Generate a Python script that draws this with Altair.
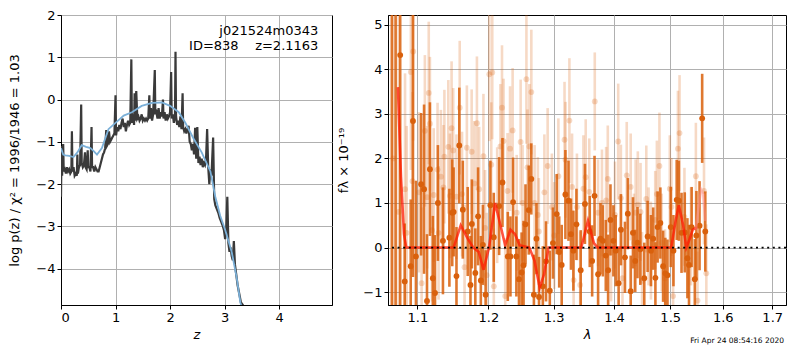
import altair as alt
import pandas as pd

# ---------------- left panel: log p(z) ----------------
pz_z = [0.00, 0.01, 0.02, 0.03, 0.04, 0.05, 0.07, 0.09, 0.11, 0.13, 0.15, 0.17, 0.19, 0.20, 0.21,
        0.23, 0.25, 0.27, 0.29, 0.30, 0.31, 0.33, 0.35, 0.37, 0.38, 0.40, 0.42, 0.44, 0.45, 0.47,
        0.49, 0.50, 0.52, 0.54, 0.56, 0.57, 0.59, 0.61, 0.63, 0.65, 0.67, 0.69, 0.71, 0.73, 0.75,
        0.77, 0.79, 0.81, 0.83, 0.84, 0.86, 0.88, 0.90, 0.92, 0.94, 0.96, 0.98, 1.00, 1.01, 1.03,
        1.05, 1.07, 1.09, 1.11, 1.13, 1.15, 1.17, 1.19, 1.21, 1.23, 1.25, 1.27, 1.29, 1.30, 1.32,
        1.34, 1.35, 1.36, 1.38, 1.40, 1.42, 1.44, 1.46, 1.48, 1.50, 1.52, 1.54, 1.56, 1.58, 1.60,
        1.62, 1.63, 1.65, 1.67, 1.69, 1.72, 1.73, 1.75, 1.77, 1.79, 1.81, 1.83, 1.85, 1.87, 1.88,
        1.90, 1.92, 1.94, 1.96, 1.98, 2.00, 2.02, 2.03, 2.05, 2.07, 2.09, 2.10, 2.11, 2.13, 2.15,
        2.17, 2.19, 2.21, 2.23, 2.24, 2.26, 2.28, 2.30, 2.32, 2.34, 2.36, 2.38, 2.40, 2.42, 2.44,
        2.46, 2.48, 2.50, 2.52, 2.54, 2.56, 2.58, 2.60, 2.62, 2.64, 2.66, 2.68, 2.70, 2.72, 2.74,
        2.76, 2.79, 2.81, 2.83, 2.86, 2.89, 2.91, 2.94, 2.97, 2.99, 3.01, 3.03, 3.05, 3.07, 3.09,
        3.11, 3.13, 3.15, 3.17, 3.19, 3.21, 3.24, 3.27, 3.30, 3.33, 3.35]
pz_logp = [-2.30, -1.10, -1.80, -1.50, -1.05, -1.70, -1.65, -1.75, -1.60, -1.70, -1.65, -1.75, -1.70, -0.75, -1.70,
           -1.60, -1.80, -1.75, -1.80, -1.30, -1.75, -1.60, -1.55, -0.12, -1.50, -1.60, -1.55, -1.25, -1.60, -1.65,
           -1.20, -1.60, -1.60, -1.70, -0.65, -1.60, -1.60, -1.70, -1.60, -1.65, -1.70, -1.70, -1.60, -1.50, -1.40,
           -1.30, -1.25, -1.15, -0.72, -1.10, -1.05, -0.75, -1.00, -0.95, -0.90, -0.85, -0.80, 0.10, -0.85, -0.65,
           -0.75, -0.60, -0.70, -0.55, -0.45, -0.65, -0.55, -0.75, -0.60, -0.50, -0.60, -0.55, 0.95, -0.55, -0.35,
           -0.60, 0.15, -0.50, 0.20, -0.45, -0.40, -0.50, -0.45, -0.35, -0.50, -0.45, -0.50, -0.45, -0.50, -0.45,
           0.10, -0.45, -0.20, -0.50, -0.35, 0.70, -0.35, -0.30, -0.45, -0.20, -0.45, -0.30, -0.40, 0.00, -0.45,
           -0.30, -0.50, -0.35, -0.45, -0.40, -0.30, 0.65, -0.45, -0.35, -0.55, -0.40, 1.13, -0.40, -0.60, -0.50,
           -0.65, -0.40, -0.70, 0.15, -0.65, -0.75, -0.70, -0.80, -0.70, -0.62, -1.00, -1.05, -1.20, -1.05, -1.30,
           -0.67, -1.40, -0.65, -1.50, -1.35, -1.55, -1.40, -1.60, -1.50, -1.55, -1.40, -0.70, -1.60, -2.00, -1.65,
           -1.80, -0.90, -2.35, -2.50, -2.60, -2.70, -2.80, -2.90, -3.00, -3.10, -3.30, -3.10, -2.30, -3.40, -3.60,
           -3.50, -3.70, -3.80, -3.35, -3.90, -4.10, -4.40, -4.60, -4.80, -4.85, -4.90]

sm_z = [0.00, 0.04, 0.08, 0.15, 0.23, 0.30, 0.38, 0.46, 0.54, 0.60, 0.66, 0.75, 0.87, 1.00, 1.15,
        1.30, 1.48, 1.67, 1.85, 2.00, 2.16, 2.28, 2.43, 2.58, 2.74, 2.83, 2.92, 3.01, 3.13, 3.22,
        3.29, 3.31]
sm_logp = [-1.15, -1.30, -1.32, -1.33, -1.36, -1.25, -1.08, -1.12, -1.15, -1.22, -1.30, -1.15, -0.70, -0.55, -0.38,
           -0.30, -0.15, -0.08, -0.07, -0.15, -0.30, -0.55, -0.92, -1.25, -1.70, -2.30, -2.75, -3.08, -3.60, -4.20,
           -4.80, -4.90]

ann_x = [4.72, 4.72]
ann_y = [1.62, 1.27]
ann_text = ["j021524m0343", "ID=838\u00a0\u00a0\u00a0\u00a0z=2.1163"]

# ---------------- right panel: spectrum ----------------
d_wave = [1.066, 1.071, 1.077, 1.083, 1.091, 1.094, 1.098, 1.105, 1.109, 1.113, 1.117, 1.121, 1.124, 1.128, 1.135,
          1.144, 1.148, 1.150, 1.154, 1.158, 1.163, 1.170, 1.174, 1.176, 1.181, 1.185, 1.189, 1.192, 1.196, 1.203,
          1.208, 1.216, 1.221, 1.229, 1.233, 1.237, 1.242, 1.246, 1.250, 1.253, 1.256, 1.261, 1.265, 1.269, 1.273,
          1.277, 1.283, 1.288, 1.294, 1.299, 1.305, 1.309, 1.313, 1.319, 1.324, 1.328, 1.332, 1.337, 1.344, 1.351,
          1.359, 1.363, 1.367, 1.373, 1.377, 1.381, 1.386, 1.390, 1.394, 1.399, 1.403, 1.408, 1.412, 1.419, 1.424,
          1.429, 1.433, 1.437, 1.441, 1.446, 1.453, 1.459, 1.465, 1.469, 1.473, 1.477, 1.482, 1.487, 1.491, 1.495,
          1.501, 1.506, 1.512, 1.516, 1.521, 1.527, 1.532, 1.535, 1.540, 1.546, 1.549, 1.555, 1.560, 1.566]
d_flux = [6.00, 5.80, 4.32, -0.76, -0.42, 2.84, -0.20, 1.42, 1.31, -1.20, 1.76, -0.69, -1.02, 1.00, 0.15,
          0.22, 0.78, 0.80, -0.64, 2.29, 0.85, 0.36, -0.84, 0.53, -0.57, 0.70, -0.74, 0.06, -1.06, 0.95,
          0.23, 0.93, 1.46, -0.20, -0.20, 1.02, -0.20, -0.71, -0.56, -0.40, 0.52, 0.84, 1.54, -1.06, 0.20,
          -1.11, -0.87, -0.31, -0.97, 0.10, 0.75, -0.10, -0.39, 1.19, 1.05, 0.30, -0.07, 0.52, -0.51, 0.98,
          0.36, -0.30, 1.16, -0.60, 0.20, 0.15, -0.18, -0.51, 0.62, 0.15, -0.07, -0.80, 0.40, -0.22, 0.76,
          -0.98, 0.33, -0.30, 0.11, -0.04, -0.69, 0.25, -0.07, 0.20, -0.68, 0.46, 0.55, -0.42, -0.58, -0.62,
          0.46, -0.07, 1.07, 1.05, 0.33, 0.34, -0.24, -0.39, 0.46, -0.71, 0.27, 0.49, 2.90, 0.36]
d_err = [8.0, 7.5, 6.0, 1.3, 1.5, 3.5, 1.7, 1.6, 1.9, 1.5, 1.5, 1.4, 1.3, 1.3, 1.2,
         1.1, 1.2, 1.0, 1.1, 1.3, 1.1, 1.0, 1.1, 1.0, 1.0, 1.1, 1.0, 0.9, 1.0, 1.0,
         1.0, 1.1, 1.0, 1.0, 0.9, 1.0, 0.9, 0.9, 0.9, 1.0, 0.9, 1.0, 0.8, 0.9, 0.8,
         0.9, 0.9, 0.9, 0.9, 0.8, 0.9, 0.8, 0.9, 1.0, 0.9, 0.8, 0.9, 0.8, 0.9, 0.9,
         0.8, 0.8, 0.9, 0.8, 0.8, 0.8, 0.8, 0.8, 0.8, 0.8, 0.8, 0.8, 0.8, 0.8, 0.8,
         0.8, 0.8, 0.7, 0.8, 0.8, 0.8, 0.8, 0.8, 0.7, 0.8, 0.8, 0.8, 0.8, 0.8, 0.8,
         0.9, 0.8, 0.9, 0.9, 0.9, 0.9, 0.9, 0.9, 0.9, 0.9, 1.0, 1.0, 1.0, 0.9]

l_wave = [1.068, 1.075, 1.0834, 1.0856, 1.0912, 1.0934, 1.0943, 1.1022, 1.1057, 1.1101, 1.1132, 1.1154, 1.1170, 1.1199, 1.1222,
          1.1275, 1.1289, 1.1321, 1.1357, 1.1370, 1.1425, 1.1448, 1.1471, 1.1494, 1.1540, 1.1586, 1.1619, 1.1655, 1.1688, 1.1757,
          1.1795, 1.1833, 1.1866, 1.1928, 1.1952, 1.1976, 1.2014, 1.2043, 1.2058, 1.2081, 1.2131, 1.2179, 1.2203, 1.2226, 1.2251,
          1.2286, 1.2324, 1.2363, 1.2425, 1.2485, 1.2515, 1.2574, 1.2590, 1.2620, 1.2650, 1.2701, 1.2752, 1.2767, 1.2854, 1.2906,
          1.2973, 1.3010, 1.3077, 1.3176, 1.3192, 1.3255, 1.3298, 1.3324, 1.3378, 1.3431, 1.3485, 1.3523, 1.3582, 1.3674, 1.3729,
          1.3795, 1.3866, 1.3894, 1.3950, 1.4017, 1.4073, 1.4119, 1.4147, 1.4221, 1.4290, 1.4347, 1.4377, 1.4416, 1.4464, 1.4491,
          1.4566, 1.4607, 1.4650, 1.4727, 1.4757, 1.4803, 1.4845, 1.4905, 1.4993, 1.5023, 1.5053, 1.5143, 1.5173, 1.5264, 1.5387,
          1.5480, 1.5511, 1.5635, 1.5680]
l_flux = [2.00, 0.80, 1.31, 0.33, 3.94, 1.49, 4.40, 1.24, -0.80, 2.62, 1.13, 3.47, 2.78, 0.39, 1.18,
          1.75, 0.33, 1.59, 1.35, 2.04, 2.26, 1.16, 2.68, 2.18, 1.14, 3.14, 1.20, -0.44, 2.24, 2.15,
          1.44, 2.79, 1.31, 2.05, 0.44, -0.62, 3.89, 1.86, 3.93, -0.87, 0.95, 2.27, 3.14, 2.39, -1.09,
          1.27, 2.22, 2.63, 0.78, 2.37, 1.00, 3.78, 1.80, 2.27, 3.49, 1.00, 0.73, 0.36, 1.24, 1.83,
          0.91, 0.27, 1.60, 2.42, 1.97, 2.85, 1.36, -0.73, 0.91, -0.84, 1.32, 1.58, 1.25, 3.28, 0.78,
          1.00, 1.06, 1.54, -0.11, 0.73, 2.38, 1.11, -0.69, 1.62, 1.36, 0.11, 0.78, 0.96, 0.80, -0.75,
          1.09, 0.25, -0.07, 0.62, 1.20, 1.83, 0.11, -0.69, 1.32, 0.91, -1.09, 2.22, 2.57, 0.69, 0.25,
          1.60, -1.19, 1.27, -0.58]
l_err = [6.0, 5.0, 2.6, 2.4, 2.2, 2.0, 2.0, 1.8, 1.7, 1.7, 1.6, 1.6, 1.5, 1.6, 1.5,
         1.5, 1.5, 1.5, 1.4, 1.5, 1.5, 1.4, 1.5, 1.4, 1.4, 1.5, 1.4, 1.4, 1.4, 1.4,
         1.4, 1.5, 1.4, 1.4, 1.3, 1.4, 1.5, 1.4, 1.5, 1.3, 1.3, 1.4, 1.4, 1.4, 1.3,
         1.3, 1.4, 1.4, 1.3, 1.4, 1.3, 1.45, 1.3, 1.4, 1.4, 1.3, 1.3, 1.2, 1.3, 1.3,
         1.2, 1.2, 1.3, 1.3, 1.3, 1.4, 1.2, 1.2, 1.2, 1.2, 1.2, 1.3, 1.2, 1.1, 1.2,
         1.2, 1.2, 1.2, 1.1, 1.2, 1.3, 1.2, 1.1, 1.2, 1.2, 1.1, 1.2, 1.2, 1.1, 1.1,
         1.2, 1.1, 1.1, 1.1, 1.2, 1.2, 1.1, 1.1, 1.2, 1.1, 1.1, 1.3, 1.3, 1.1, 1.1,
         1.2, 1.1, 1.2, 1.1]

m_wave = [1.074, 1.078, 1.082, 1.085, 1.150, 1.160, 1.170, 1.178, 1.186, 1.193, 1.201, 1.210, 1.218, 1.225, 1.233,
          1.240, 1.247, 1.262, 1.270, 1.278, 1.285, 1.292, 1.345, 1.356, 1.366, 1.372, 1.502, 1.510, 1.516, 1.524,
          1.530, 1.535, 1.542, 1.550]
m_flux = [3.60, 1.60, 0.30, 0.00, 0.00, 0.50, 0.20, 0.00, -0.10, -0.50, 0.00, 1.00, 0.50, 0.05, 0.40,
          0.30, 0.05, 0.00, -0.30, -0.90, -0.60, 0.00, 0.00, 0.60, 0.10, 0.00, 0.00, 0.60, 0.95, 0.50,
          0.00, 0.15, 0.40, 0.45]
m2_wave = [1.548, 1.553, 1.558, 1.562, 1.566]
m2_flux = [0.40, 0.90, 1.30, 1.20, 0.60]

zero_level = [0.0]
stamp_text = ["Fri Apr 24 08:54:16 2020"]

FONT = "DejaVu Sans"
ORANGE = "#d9600c"
H = 290
WL = 271
WR = 398

# ---------------- build left ----------------
df_pz = pd.DataFrame({"z": pz_z, "logp": pz_logp})
df_sm = pd.DataFrame({"z": sm_z, "logp": sm_logp})
df_ann = pd.DataFrame({"z": ann_x, "logp": ann_y, "t": ann_text})

xz = alt.X("z:Q", scale=alt.Scale(domain=[0, 4.97], nice=False, zero=False),
           axis=alt.Axis(values=[0, 1, 2, 3, 4], format="d", title="z", titleFontStyle="italic",
                         titlePadding=4))
yz = alt.Y("logp:Q", scale=alt.Scale(domain=[-4.86, 2.0], nice=False, zero=False),
           axis=alt.Axis(values=[-4, -3, -2, -1, 0, 1, 2], format="d",
                         title="log p(z) / \u03c7\u00b2 = 1996/1946 = 1.03", titlePadding=14))

left_pz = alt.Chart(df_pz).mark_line(color="#3a3a3a", strokeWidth=2.2, clip=True).encode(x=xz, y=yz)
left_sm = alt.Chart(df_sm).mark_line(color="#7bb0d8", strokeWidth=1.8, clip=True).encode(x="z:Q", y="logp:Q")
left_ann = alt.Chart(df_ann).mark_text(align="right", font=FONT, fontSize=13, color="black").encode(
    x="z:Q", y="logp:Q", text="t:N")
left = alt.layer(left_pz, left_sm, left_ann).properties(width=WL, height=H)

# ---------------- build right ----------------
df_d = pd.DataFrame({"wave": d_wave, "flux": d_flux, "err": d_err})
df_l = pd.DataFrame({"wave": l_wave, "flux": l_flux, "err": l_err})
df_m = pd.DataFrame({"wave": m_wave, "flux": m_flux})
df_m2 = pd.DataFrame({"wave": m2_wave, "flux": m2_flux})
df_zero = pd.DataFrame({"flux": zero_level})
df_stamp = pd.DataFrame({"t": stamp_text})

xw = alt.X("wave:Q", scale=alt.Scale(type="log", domain=[1.061, 1.729], nice=False, zero=False),
           axis=alt.Axis(values=[1.1, 1.2, 1.3, 1.4, 1.5, 1.6, 1.7], format=".1f",
                         title="\u03bb", titleFontStyle="italic", titlePadding=4))
yf = alt.Y("flux:Q", scale=alt.Scale(domain=[-1.29, 5.22], nice=False, zero=False),
           axis=alt.Axis(values=[-1, 0, 1, 2, 3, 4, 5], format="d",
                         title="f\u03bb \u00d7 10\u207b\u00b9\u2079", titlePadding=12))

def bars(df, opacity):
    return alt.Chart(df).transform_calculate(
        lo="datum.flux - datum.err", hi="datum.flux + datum.err"
    ).mark_rule(color=ORANGE, strokeWidth=2.6, opacity=opacity, clip=True).encode(
        x="wave:Q", y="lo:Q", y2="hi:Q")

l_bars = bars(df_l, 0.24)
l_pts = alt.Chart(df_l).mark_circle(color=ORANGE, size=34, opacity=0.24, clip=True).encode(x=xw, y=yf)
d_bars = bars(df_d, 0.85)
d_pts = alt.Chart(df_d).mark_circle(color=ORANGE, size=34, opacity=1, clip=True).encode(x="wave:Q", y="flux:Q")
model = alt.Chart(df_m).mark_line(color="#ff1a00", strokeWidth=2.6, opacity=0.75, clip=True).encode(
    x="wave:Q", y="flux:Q")
model2 = alt.Chart(df_m2).mark_line(color="#ff9090", strokeWidth=2.6, opacity=0.5, clip=True).encode(
    x="wave:Q", y="flux:Q")
zero = alt.Chart(df_zero).mark_rule(color="black", strokeWidth=1.8, strokeDash=[2, 3.6]).encode(y="flux:Q")
stamp = alt.Chart(df_stamp).mark_text(align="right", font=FONT, fontSize=7.5, color="black").encode(
    x=alt.value(WR - 2), y=alt.value(H + 36), text="t:N")

right = alt.layer(l_pts, l_bars, d_bars, d_pts, model, model2, zero, stamp).properties(width=WR, height=H)

chart = alt.hconcat(left, right, spacing=4).properties(
    padding={"left": 0, "top": 0, "right": 0, "bottom": 0}
).configure_axis(
    grid=True, gridColor="#b0b0b0", gridWidth=1, domainColor="black", tickColor="black",
    tickSize=4, labelFont=FONT, labelFontSize=13, labelColor="black", labelPadding=2,
    titleFont=FONT, titleFontSize=13, titleFontWeight="normal", titleColor="black"
).configure_view(stroke="black", strokeWidth=1)

chart.save("out.html", embed_options={"renderer": "svg", "actions": False})
